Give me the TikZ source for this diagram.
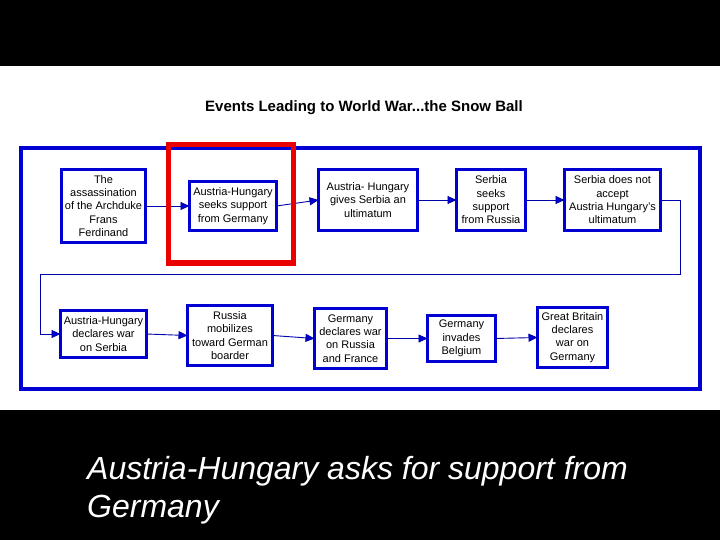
\documentclass[tikz,border=0pt]{standalone}
\usepackage{fontspec}
\setmainfont{Liberation Sans}
\usetikzlibrary{arrows.meta}
\definecolor{boxblue}{RGB}{0,0,210}
\definecolor{linkblue}{RGB}{0,0,170}
\definecolor{hired}{RGB}{235,0,0}
\begin{document}
\begin{tikzpicture}[x=1pt,y=-1pt,
  event/.style={draw=boxblue, line width=3pt, fill=white, align=center,
    inner sep=0pt, outer sep=0pt, font=\fontsize{11}{13.3}\selectfont},
  link/.style={draw=linkblue, line width=0.9pt,
    -{Triangle[length=9pt,width=8pt,fill=boxblue]}},
  frame/.style={draw=boxblue, line width=4pt},
  highlight/.style={draw=hired, line width=5.5pt}]
\useasboundingbox (0,0) rectangle (720,540);
\fill[black] (0,0) rectangle (720,540);
\fill[white] (0,66) rectangle (720,410);

\node[anchor=base, font=\bfseries\fontsize{15}{18}\selectfont] (title) at (364,112)
  {Events Leading to World War...the Snow Ball};

\draw[frame] (20.5,148) rectangle (700,389);

% row 1
\node[event, minimum width=84pt, minimum height=73pt] (B1) at (103.5,206)
  {The\\assassination\\of the Archduke\\Frans\\Ferdinand};
\node[event, minimum width=87pt, minimum height=49pt] (B2) at (233,206)
  {Austria-Hungary\\seeks support\\from Germany};
\node[event, minimum width=99pt, minimum height=61pt] (B3) at (368,200)
  {Austria- Hungary\\gives Serbia an\\ultimatum};
\node[event, minimum width=69pt, minimum height=61pt] (B4) at (491,200)
  {Serbia\\seeks\\support\\from Russia};
\node[event, minimum width=96pt, minimum height=61pt] (B5) at (612.5,200)
  {Serbia does not\\accept\\Austria Hungary's\\ultimatum};

% row 2
\node[event, minimum width=86pt, minimum height=47pt] (R1) at (103.5,334)
  {Austria-Hungary\\declares war\\on Serbia};
\node[event, minimum width=85pt, minimum height=60pt] (R2) at (230,335.5)
  {Russia\\mobilizes\\toward German\\boarder};
\node[event, minimum width=72pt, minimum height=60pt] (R3) at (350.5,338.5)
  {Germany\\declares war\\on Russia\\and France};
\node[event, minimum width=68pt, minimum height=46pt] (R4) at (461.5,338.5)
  {Germany\\invades\\Belgium};
\node[event, minimum width=70pt, minimum height=60pt] (R5) at (572.5,337.5)
  {Great Britain\\declares\\war on\\Germany};

\coordinate (t1) at (680,274);
\coordinate (t2) at (40,274);

\draw[link] (B1.east) -- (B2.west);
\draw[link] (B2.east) -- (B3.west);
\draw[link] (B3.east) -- (B4.west);
\draw[link] (B4.east) -- (B5.west);
\draw[link] (B5.east) -| (t1) -- (t2) |- (R1.west);
\draw[link] (R1.east) -- (R2.west);
\draw[link] (R2.east) -- (R3.west);
\draw[link] (R3.east) -- (R4.west);
\draw[link] (R4.east) -- (R5.west);

\draw[highlight] (168.5,144.5) rectangle (293.5,263);

\node[anchor=base west, text=white, inner sep=0pt,
  font=\itshape\fontsize{32}{38}\selectfont] (cap1) at (87,479)
  {Austria-Hungary asks for support from};
\node[anchor=base west, text=white, inner sep=0pt,
  font=\itshape\fontsize{32}{38}\selectfont] (cap2) at (87,517)
  {Germany};
\end{tikzpicture}
\end{document}
